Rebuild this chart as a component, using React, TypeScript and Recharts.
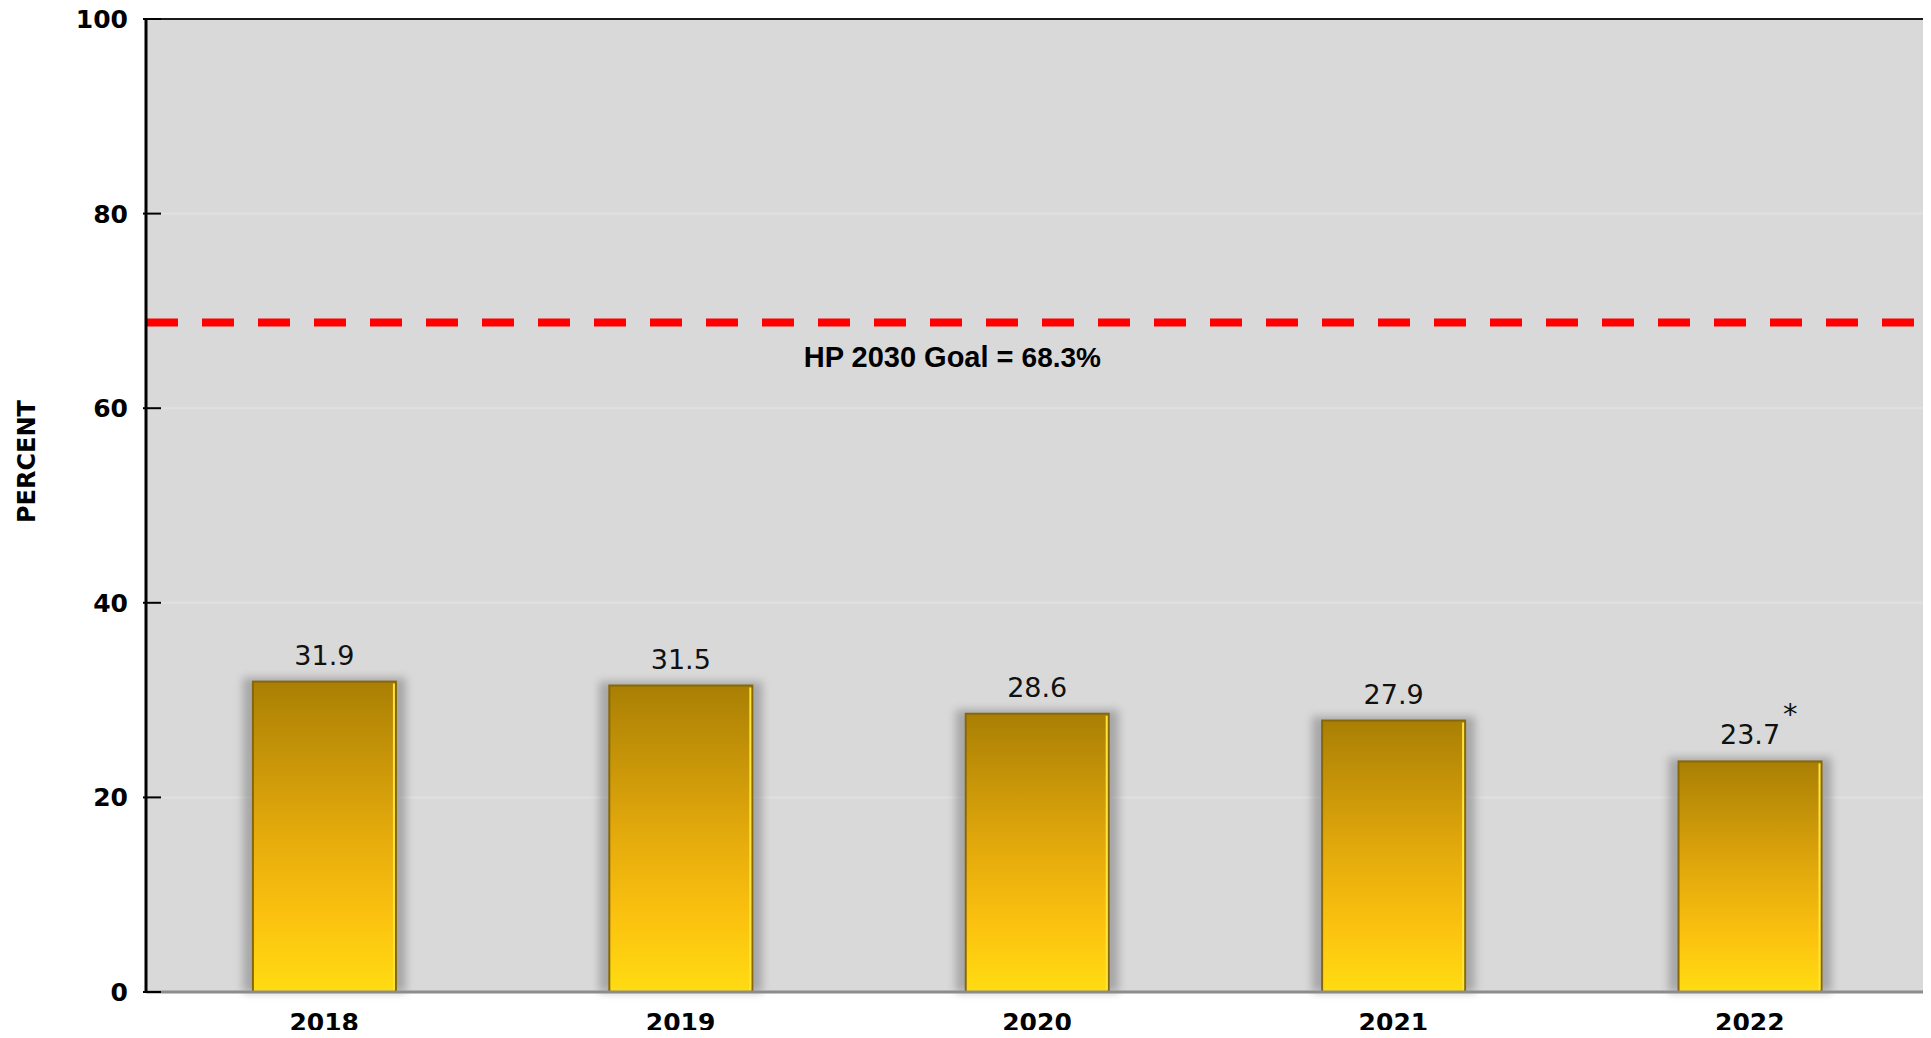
import { BarChart, Bar, XAxis, YAxis, CartesianGrid, ReferenceLine, ReferenceArea, LabelList } from 'recharts';

// survey years and percent values
const years = ['2018', '2019', '2020', '2021', '2022'];
const percents = [31.9, 31.5, 28.6, 27.9, 23.7];
const notes = ['', '', '', '', '*'];
const yTicks = [0, 20, 40, 60, 80, 100];
const goalLine = 68.8;
const goalText = 'HP 2030 Goal = ';
const goalValue = '68.3%';

const data = years.map((year, i) => ({ year, percent: percents[i], note: notes[i] }));

const tickFont = 'DejaVu Sans, Verdana, sans-serif';

function GoldBar(props: any) {
    const { x, y, width, height } = props;
    if (!height || height <= 0) return null;
    return (
        <g>
            <rect x={x - 10} y={y - 4} width={width + 20} height={height + 4} fill="#858585" opacity={0.6} filter="url(#barShadow)" />
            <rect x={x} y={y} width={width} height={height} fill="url(#goldFill)" stroke="#86680a" strokeWidth={2} />
            <line x1={x + width - 2} y1={y + 2} x2={x + width - 2} y2={y + height - 2} stroke="#ffe53a" strokeWidth={2} />
        </g>
    );
}

function ValueLabel(props: any) {
    const { x, y, width, value, index } = props;
    const cx = x + width / 2;
    return (
        <g>
            <text x={cx} y={y - 17} textAnchor="middle" fontFamily={tickFont} fontSize={27} fill="#111">
                {value}
            </text>
            {notes[index] ? (
                <text x={cx + 33} y={y - 37} textAnchor="start" fontFamily={tickFont} fontSize={29} fill="#111">
                    {notes[index]}
                </text>
            ) : null}
        </g>
    );
}

function YTick(props: any) {
    const { x, y, payload } = props;
    return (
        <g>
            <line x1={x - 1} y1={y} x2={x + 17} y2={y} stroke="#000" strokeWidth={2} />
            <text x={x - 16} y={y + 9} textAnchor="end" fontFamily={tickFont} fontWeight="bold" fontSize={25} fill="#000">
                {payload.value}
            </text>
        </g>
    );
}

function XTick(props: any) {
    const { x, y, payload } = props;
    return (
        <text x={x} y={y + 37} textAnchor="middle" fontFamily={tickFont} fontWeight="bold" fontSize={25} fill="#000">
            {payload.value}
        </text>
    );
}

function GoalLabel(props: any) {
    const { viewBox } = props;
    return (
        <text x={viewBox.x + viewBox.width * 0.4525} y={viewBox.y + 44} textAnchor="middle" fontFamily="Liberation Sans, Arial, sans-serif" fontWeight="bold" fill="#000">
            <tspan fontSize={29}>{goalText}</tspan>
            <tspan fontSize={28}>{goalValue}</tspan>
        </text>
    );
}

function AxisTitle(props: any) {
    const { viewBox } = props;
    const cx = viewBox.x + 19;
    const cy = viewBox.y + viewBox.height / 2 - 44;
    return (
        <text x={cx} y={cy} transform={`rotate(-90, ${cx}, ${cy})`} textAnchor="middle" dominantBaseline="central" fontFamily={tickFont} fontWeight="bold" fontSize={24} fill="#000">
            PERCENT
        </text>
    );
}

export default function App() {
    return (
        <div style={{ width: 1931, height: 1038, margin: -8, background: '#fff' }}>
            <BarChart width={1931} height={1038} data={data} margin={{ top: 19, right: 3, left: 8, bottom: 0 }} barCategoryGap="30%">
                <defs>
                    <linearGradient id="goldFill" x1="0" y1="0" x2="0" y2="1">
                        <stop offset="0%" stopColor="#a97f04" />
                        <stop offset="45%" stopColor="#e0a70c" />
                        <stop offset="75%" stopColor="#fbc10f" />
                        <stop offset="100%" stopColor="#ffdc12" />
                    </linearGradient>
                    <filter id="barShadow" x="-20%" y="-10%" width="140%" height="120%">
                        <feGaussianBlur stdDeviation="4" />
                    </filter>
                </defs>
                <CartesianGrid vertical={false} fill="#d9d9d9" stroke="#e1e1e1" strokeWidth={2} />
                <XAxis
                    dataKey="year"
                    height={46}
                    axisLine={{ stroke: '#8c8c8c', strokeWidth: 3 }}
                    tickLine={false}
                    tickSize={0}
                    tick={<XTick />}
                />
                <YAxis
                    domain={[0, 100]}
                    ticks={yTicks}
                    width={138}
                    axisLine={{ stroke: '#000', strokeWidth: 3 }}
                    tickLine={false}
                    tickSize={0}
                    tick={<YTick />}
                    label={<AxisTitle />}
                />
                <ReferenceArea y1={0} y2={100} fill="none" stroke="#1a1a1a" strokeWidth={2} ifOverflow="visible" />
                <Bar dataKey="percent" shape={<GoldBar />} isAnimationActive={false}>
                    <LabelList dataKey="percent" content={<ValueLabel />} />
                </Bar>
                <ReferenceLine y={goalLine} stroke="#ff0000" strokeWidth={8} strokeDasharray="32 24" label={<GoalLabel />} />
            </BarChart>
        </div>
    );
}
